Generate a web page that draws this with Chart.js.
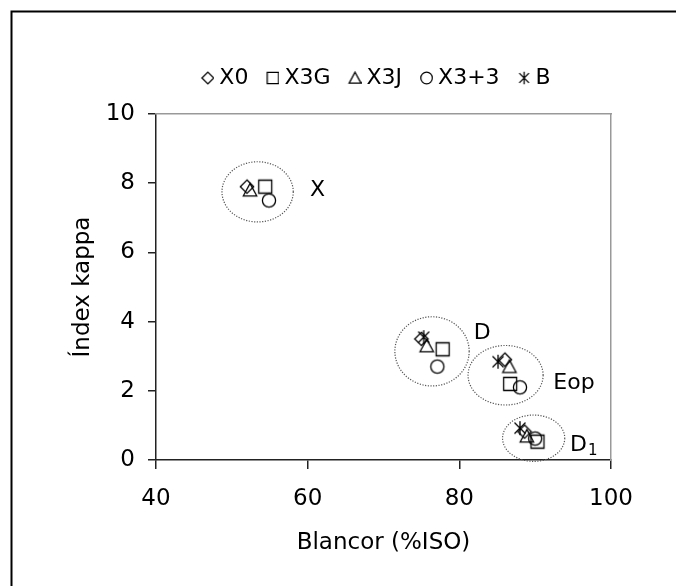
<!DOCTYPE html>
<html>
<head>
<meta charset="utf-8">
<script src="https://cdn.jsdelivr.net/npm/chart.js@4.4.1/dist/chart.umd.min.js"></script>
<style>
  html, body { margin: 0; padding: 0; background: #fff; }
</style>
</head>
<body>
<canvas id="kappaChart" width="676" height="586"></canvas>
<script>
// Blancor (%ISO) vs Índex kappa, one series per pulp sequence
const seriesNames = ['X0', 'X3G', 'X3J', 'X3+3', 'B'];
const x0Blancor = [52.0, 75.0, 86.0, 88.6];
const x0Kappa = [7.9, 3.5, 2.9, 0.82];
const x3gBlancor = [54.4, 77.8, 86.7, 90.3];
const x3gKappa = [7.9, 3.2, 2.2, 0.53];
const x3jBlancor = [52.4, 75.7, 86.6, 88.9];
const x3jKappa = [7.8, 3.3, 2.7, 0.69];
const x33Blancor = [54.9, 77.1, 88.0, 90.0];
const x33Kappa = [7.5, 2.7, 2.1, 0.62];
const bBlancor = [75.3, 85.1, 88.0];
const bKappa = [3.55, 2.84, 0.92];

const xTicks = [40, 60, 80, 100];
const yTicks = [0, 2, 4, 6, 8, 10];

// dotted ellipses around each bleaching stage, in data units
const stageNames = ['X', 'D', 'Eop', 'D'];
const stageSub = ['', '', '', '1'];
const stageLabelX = [60.3, 81.9, 92.4, 94.6];
const stageLabelY = [7.8, 3.67, 2.22, 0.43];
const ellipseCx = [53.4, 76.4, 86.1, 89.8];
const ellipseCy = [7.75, 3.14, 2.45, 0.63];
const ellipseRx = [4.7, 4.9, 4.95, 4.1];
const ellipseRy = [0.87, 1.0, 0.86, 0.67];

const FONT = "'DejaVu Sans', sans-serif";
const FSIZE = 23;
const LEGEND_FSIZE = 22;

// hollow black markers drawn on small canvases
function makeMarker(kind, scale, legend) {
  const c = document.createElement('canvas');
  c.width = legend ? 24 : 18;
  c.height = 18;
  const g = c.getContext('2d');
  const cx = legend ? 17.5 : 9, cy = 9;
  const s = scale;
  g.strokeStyle = '#000';
  g.lineWidth = 1.3;
  g.beginPath();
  switch (kind) {
    case 'diamond':
      g.moveTo(cx, cy - 6.7 * s);
      g.lineTo(cx + 6.7 * s, cy);
      g.lineTo(cx, cy + 6.7 * s);
      g.lineTo(cx - 6.7 * s, cy);
      g.closePath();
      break;
    case 'square':
      g.rect(cx - 6.5 * s, cy - 6.5 * s, 13 * s, 13 * s);
      break;
    case 'triangle':
      g.moveTo(cx, cy - 6.6 * s);
      g.lineTo(cx + 6.7 * s, cy + 5.8 * s);
      g.lineTo(cx - 6.7 * s, cy + 5.8 * s);
      g.closePath();
      break;
    case 'circle':
      g.arc(cx, cy, 6.6 * s, 0, Math.PI * 2);
      break;
    case 'asterisk':
      g.moveTo(cx, cy - 7 * s); g.lineTo(cx, cy + 7 * s);
      g.moveTo(cx - 5.5 * s, cy - 5.5 * s); g.lineTo(cx + 5.5 * s, cy + 5.5 * s);
      g.moveTo(cx + 5.5 * s, cy - 5.5 * s); g.lineTo(cx - 5.5 * s, cy + 5.5 * s);
      break;
  }
  g.stroke();
  return c;
}

const markerKinds = ['diamond', 'square', 'triangle', 'circle', 'asterisk'];
const pointMarkers = markerKinds.map(k => makeMarker(k, 1, false));
const legendMarkers = markerKinds.map(k => makeMarker(k, 0.88, true));

function toPoints(xs, ys) {
  return xs.map((v, i) => ({ x: v, y: ys[i] }));
}

const seriesData = [
  toPoints(x0Blancor, x0Kappa),
  toPoints(x3gBlancor, x3gKappa),
  toPoints(x3jBlancor, x3jKappa),
  toPoints(x33Blancor, x33Kappa),
  toPoints(bBlancor, bKappa)
];

// outer frame, plot-area ellipses and stage labels
const decorPlugin = {
  id: 'decor',
  afterLayout(chart) {
    // legend in the original sits a little left of the plot centre
    if (chart.legend) {
      chart.legend.left -= 10;
      chart.legend.right -= 10;
    }
  },
  beforeDraw(chart) {
    const ctx = chart.ctx;
    ctx.save();
    ctx.fillStyle = '#fff';
    ctx.fillRect(0, 0, chart.width, chart.height);
    ctx.strokeStyle = '#000';
    ctx.lineWidth = 2;
    ctx.strokeRect(11.5, 11.5, 800, 800);
    ctx.restore();
  },
  beforeDatasetsDraw(chart) {
    const { ctx, scales: { x, y } } = chart;
    ctx.save();
    ctx.strokeStyle = '#555';
    ctx.lineWidth = 1.2;
    ctx.setLineDash([1.2, 1.5]);
    ellipseCx.forEach((cx, i) => {
      const px = x.getPixelForValue(cx);
      const py = y.getPixelForValue(ellipseCy[i]);
      const rx = Math.abs(x.getPixelForValue(cx + ellipseRx[i]) - px);
      const ry = Math.abs(y.getPixelForValue(ellipseCy[i] + ellipseRy[i]) - py);
      ctx.beginPath();
      ctx.ellipse(px, py, rx, ry, 0, 0, Math.PI * 2);
      ctx.stroke();
    });
    ctx.setLineDash([]);
    ctx.fillStyle = '#000';
    ctx.textAlign = 'left';
    ctx.textBaseline = 'middle';
    stageNames.forEach((name, i) => {
      const px = x.getPixelForValue(stageLabelX[i]);
      const py = y.getPixelForValue(stageLabelY[i]);
      ctx.font = LEGEND_FSIZE + 'px ' + FONT;
      ctx.fillText(name, px, py);
      if (stageSub[i]) {
        const w = ctx.measureText(name).width;
        ctx.font = '15px ' + FONT;
        ctx.fillText(stageSub[i], px + w + 1, py + 6);
      }
    });
    ctx.restore();
  }
};

const ctx = document.getElementById('kappaChart').getContext('2d');
const chart = new Chart(ctx, {
  type: 'scatter',
  data: {
    datasets: seriesNames.map((name, i) => ({
      label: name,
      data: seriesData[i],
      pointStyle: pointMarkers[i],
      pointRadius: 7,
      pointHoverRadius: 7,
      borderColor: '#000',
      backgroundColor: 'transparent',
      clip: false
    }))
  },
  options: {
    responsive: false,
    animation: false,
    layout: { padding: { top: 54, left: 0, right: 55, bottom: 0 } },
    plugins: {
      tooltip: { enabled: false },
      legend: {
        position: 'top',
        fullSize: false,
        labels: {
          usePointStyle: true,
          boxWidth: 12,
          padding: 13,
          color: '#000',
          font: { family: FONT, size: LEGEND_FSIZE },
          generateLabels(chart) {
            return chart.data.datasets.map((ds, i) => ({
              text: ds.label,
              pointStyle: legendMarkers[i],
              fillStyle: 'transparent',
              strokeStyle: '#000',
              lineWidth: 0,
              hidden: false,
              datasetIndex: i
            }));
          }
        }
      }
    },
    scales: {
      x: {
        type: 'linear',
        position: 'bottom',
        min: xTicks[0],
        max: xTicks[xTicks.length - 1],
        afterBuildTicks(s) { s.ticks = xTicks.map(v => ({ value: v })); },
        afterFit(s) { s.height = 126; },
        grid: { display: true, drawOnChartArea: false, drawTicks: true, tickLength: 9, color: '#222', lineWidth: 1.5 },
        border: { display: true, color: '#222', width: 1.5 },
        ticks: { color: '#000', padding: 16, font: { family: FONT, size: FSIZE } },
        title: { display: true, text: 'Blancor (%ISO)', color: '#000', padding: { top: 0, bottom: 29 }, font: { family: FONT, size: FSIZE } }
      },
      y: {
        type: 'linear',
        position: 'left',
        min: yTicks[0],
        max: yTicks[yTicks.length - 1],
        afterBuildTicks(s) { s.ticks = yTicks.map(v => ({ value: v })); },
        afterFit(s) { s.width = 156; },
        grid: { display: true, drawOnChartArea: false, drawTicks: true, tickLength: 8, color: '#222', lineWidth: 1.5 },
        border: { display: true, color: '#222', width: 1.5 },
        ticks: { color: '#000', padding: 13, font: { family: FONT, size: FSIZE } },
        title: { display: true, text: 'Índex kappa', color: '#000', padding: { top: 69, bottom: 0 }, font: { family: FONT, size: FSIZE } }
      },
      xTop: {
        type: 'linear',
        position: 'top',
        min: xTicks[0],
        max: xTicks[xTicks.length - 1],
        afterFit(s) { s.height = 15; },
        grid: { display: false },
        border: { display: true, color: '#999', width: 1.5 },
        ticks: { display: false }
      },
      yRight: {
        type: 'linear',
        position: 'right',
        min: yTicks[0],
        max: yTicks[yTicks.length - 1],
        afterFit(s) { s.width = 10; },
        grid: { display: false },
        border: { display: true, color: '#999', width: 1.5 },
        ticks: { display: false }
      }
    }
  },
  plugins: [decorPlugin]
});
</script>
</body>
</html>
